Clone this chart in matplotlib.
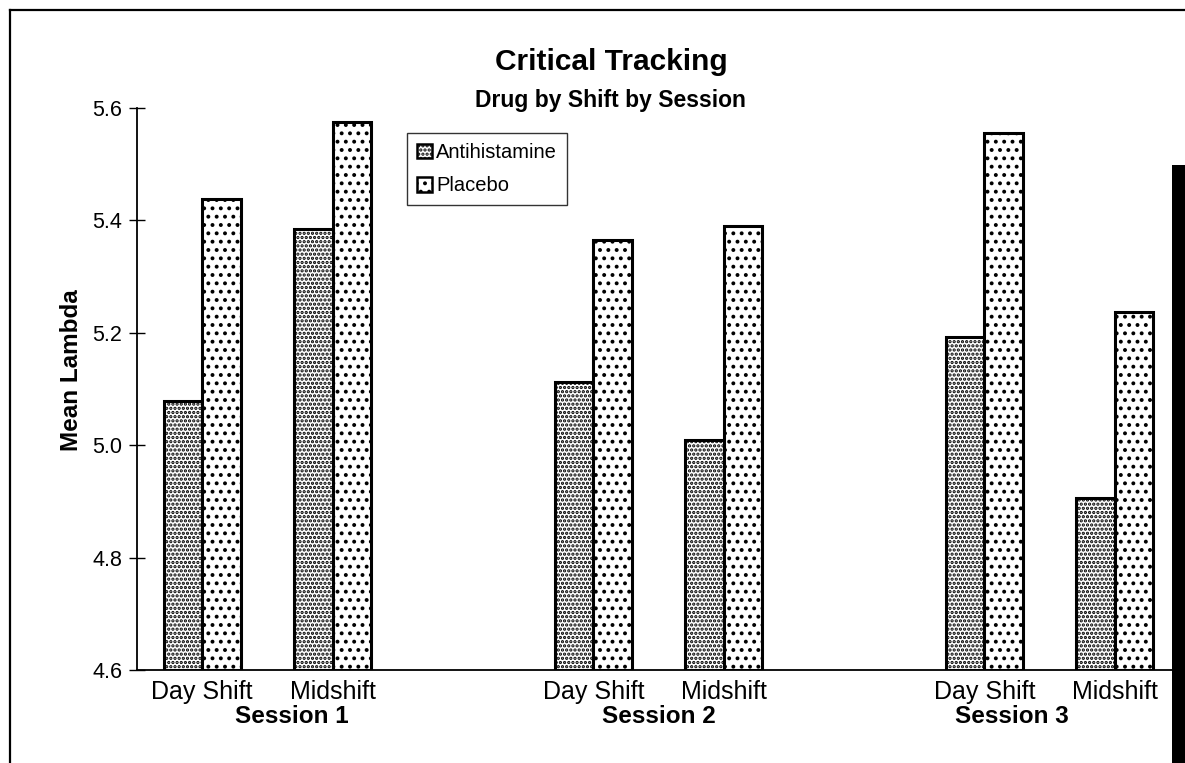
import matplotlib
matplotlib.use("Agg")
import matplotlib.pyplot as plt
from matplotlib.patches import Rectangle, Patch
from matplotlib.lines import Line2D

# ---- data ----
sessions = ["Session 1", "Session 2", "Session 3"]
shifts = ["Day Shift", "Midshift"]
antihistamine = [5.079, 5.385, 5.112, 5.009, 5.193, 4.906]   # day, mid per session
placebo = [5.438, 5.575, 5.365, 5.390, 5.555, 5.237]
y_ticks = [4.6, 4.8, 5.0, 5.2, 5.4, 5.6]
series_names = ["Antihistamine", "Placebo"]

plt.rcParams['font.family'] = ['Liberation Sans', 'DejaVu Sans']
plt.rcParams['hatch.linewidth'] = 1.6

W, H = 1185, 763
fig = plt.figure(figsize=(W / 100, H / 100), dpi=100)
fig.patch.set_facecolor("white")

ax = fig.add_axes([137 / W, 1 - 670 / H, (1180 - 137) / W, (670 - 108) / H])

# category slot positions: two shifts per session, one empty slot between sessions
pos = []
labels = []
for s in range(len(sessions)):
    for k in range(len(shifts)):
        pos.append(s * 3 + k)
        labels.append(shifts[k])

bw = 0.295
ax.bar([p - bw / 2 for p in pos], [v - 4.6 for v in antihistamine], bw, bottom=4.6,
       facecolor="white", edgecolor="black", linewidth=2.2, hatch="....")
ax.bar([p + bw / 2 for p in pos], [v - 4.6 for v in placebo], bw, bottom=4.6,
       facecolor="white", edgecolor="black", linewidth=2.2, hatch="..")

ax.set_xlim(-0.5, 7.5)
ax.set_ylim(4.6, 5.6)
ax.set_yticks(y_ticks)
ax.set_yticklabels([f"{t:.1f}" for t in y_ticks], fontsize=15.5)
ax.tick_params(axis="y", direction="inout", length=11, width=1.0, pad=5)
ax.set_xticks(pos)
ax.set_xticklabels(labels, fontsize=18)
ax.tick_params(axis="x", length=0, pad=7)
for side in ["top", "right"]:
    ax.spines[side].set_visible(False)
ax.spines["left"].set_linewidth(1.3)
ax.spines["bottom"].set_linewidth(1.3)

# session labels
sess_x = [0.69, 3.5, 6.21]
for sx, name in zip(sess_x, sessions):
    ax.text(sx, -0.083, name, transform=ax.get_xaxis_transform(), ha="center",
            va="center", fontsize=17.5, fontweight="bold")

fig.text(72 / W, 1 - 370 / H, "Mean Lambda", rotation=90, ha="center", va="center",
         fontsize=17.5, fontweight="bold")

fig.text(611 / W, 1 - 62 / H, "Critical Tracking", ha="center", va="center",
         fontsize=21.5, fontweight="bold")
fig.text(610 / W, 1 - 101 / H, "Drug by Shift by Session", ha="center", va="center",
         fontsize=16.5, fontweight="bold")

handles = [Patch(facecolor="white", edgecolor="black", linewidth=1.8, hatch="...."),
           Patch(facecolor="white", edgecolor="black", linewidth=1.8, hatch="..")]
leg = fig.legend(handles, series_names, loc="upper left",
                 bbox_to_anchor=(407 / W, 1 - 133 / H), fontsize=14.5,
                 frameon=True, fancybox=False, edgecolor="black",
                 handlelength=0.75, handleheight=0.75, handletextpad=0.2,
                 borderpad=0.5, labelspacing=0.7, borderaxespad=0)
leg.get_frame().set_linewidth(1.0)

# scanned page border and dark right edge
fig.add_artist(Line2D([10 / W, 10 / W], [0, 1 - 10 / H], color="black", linewidth=1.6,
                      transform=fig.transFigure))
fig.add_artist(Line2D([10 / W, 1], [1 - 10 / H, 1 - 10 / H], color="black", linewidth=1.6,
                      transform=fig.transFigure))
fig.add_artist(Rectangle((1172 / W, 0), 13 / W, 1 - 165 / H, facecolor="black",
                         edgecolor="none", transform=fig.transFigure))

fig.savefig("out.png", dpi=100)
